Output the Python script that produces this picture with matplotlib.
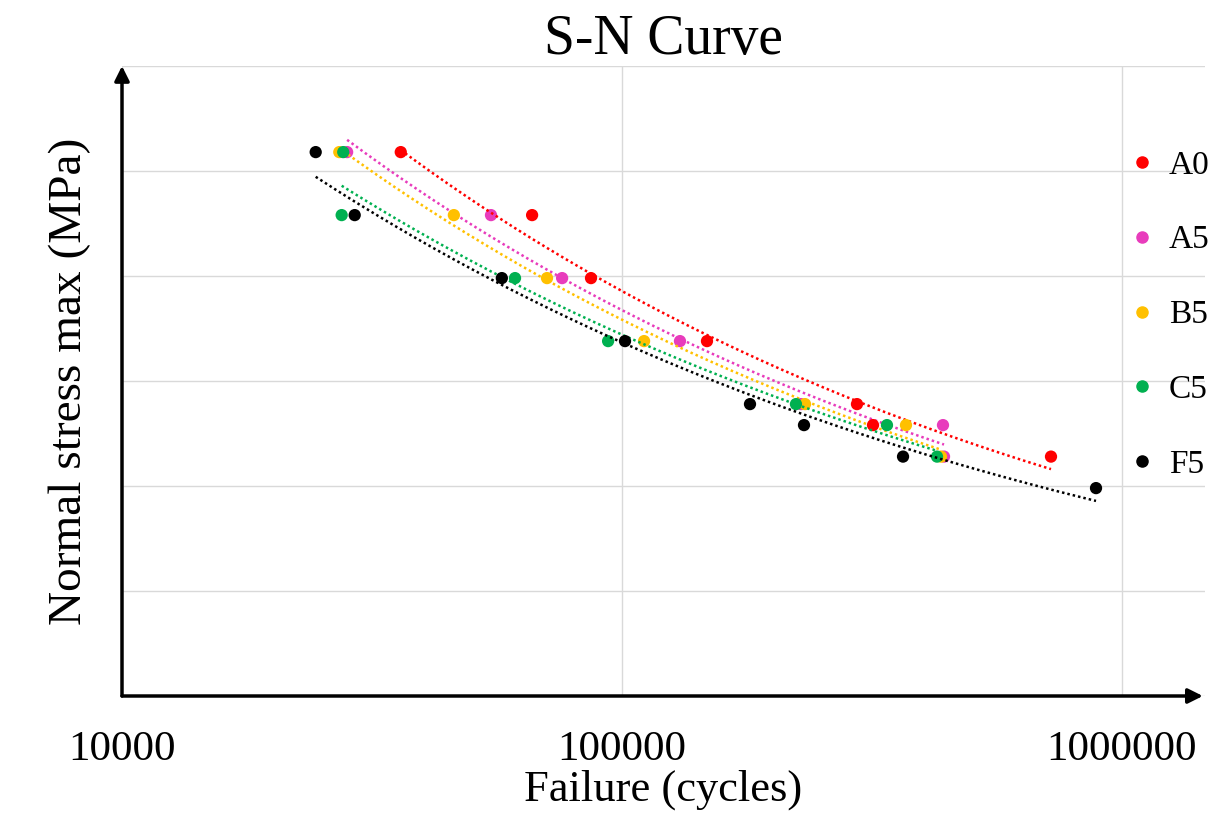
import numpy as np
import matplotlib
matplotlib.use("Agg")
import matplotlib.pyplot as plt
from matplotlib.lines import Line2D

plt.rcParams['font.family'] = ['Liberation Serif', 'DejaVu Serif']

# cycles to failure and max normal stress per series
a0_n = [36100, 66100, 86700, 147900, 295100, 317700, 721100]
a0_s = [259, 229, 199, 169, 139, 129, 114]
a5_n = [28200, 54700, 75900, 130600, 228000, 438500, 440600]
a5_s = [259, 229, 199, 169, 139, 129, 114]
b5_n = [27200, 46100, 70800, 110700, 232300, 369800, 434500]
b5_s = [259, 229, 199, 169, 139, 129, 114]
c5_n = [27700, 27500, 61100, 93800, 222800, 338800, 426600]
c5_s = [259, 229, 199, 169, 139, 129, 114]
f5_n = [24400, 29200, 57500, 101400, 180300, 231200, 364800, 887200]
f5_s = [259, 229, 199, 169, 139, 129, 114, 99]

names = ["A0", "A5", "B5", "C5", "F5"]
colors = ["#ff0000", "#e83cbc", "#ffc000", "#00b050", "#000000"]
series = [(a0_n, a0_s), (a5_n, a5_s), (b5_n, b5_s), (c5_n, c5_s), (f5_n, f5_s)]
zorders = [4, 3, 4, 5, 6]

fig = plt.figure(figsize=(12.18, 8.18), dpi=100)
ax = fig.add_axes([122/1218, 1-696/818, (1205-122)/1218, (696-66)/818])

for name, col, (n, s), z in zip(names, colors, series, zorders):
    n = np.array(n, float)
    s = np.array(s, float)
    # power-law trendline, as in a spreadsheet
    b, a = np.polyfit(np.log(n), np.log(s), 1)
    xx = np.geomspace(n.min(), n.max(), 200)
    ax.plot(xx, np.exp(a) * xx**b, linestyle=(0, (1, 1.2)), color=col, lw=1.8, zorder=z)
    ax.scatter(n, s, s=78, color=col, edgecolors='none', zorder=z + 0.5)

ax.set_xscale('log')
ax.set_xlim(1e4, 10**(4 + 1083/500))
ax.set_ylim(0, 300)
ax.set_xticks([1e4, 1e5, 1e6])
ax.set_xticklabels(["10000", "100000", "1000000"])
ax.set_yticks(np.arange(0, 301, 50))
ax.set_yticklabels([])
ax.tick_params(axis='x', length=0, labelsize=31, pad=25)
ax.tick_params(axis='y', length=0, pad=0)
ax.minorticks_off()
ax.grid(True, color='#d9d9d9', lw=1)
ax.set_axisbelow(True)
for sp in ax.spines.values():
    sp.set_visible(False)

arrow = dict(arrowstyle='-|>', color='black', lw=2.5, mutation_scale=22,
             shrinkA=0, shrinkB=0)
ax.annotate('', xy=(0.998, 0), xytext=(0, 0), xycoords='axes fraction', arrowprops=arrow)
ax.annotate('', xy=(0, 1.0), xytext=(0, 0), xycoords='axes fraction', arrowprops=arrow)

ax.set_title("S-N Curve", fontsize=40, pad=4)
ax.set_xlabel("Failure (cycles)", fontsize=32, labelpad=0)
ax.set_ylabel("Normal stress max (MPa)", fontsize=34, labelpad=22)

handles = [Line2D([], [], marker='o', linestyle='none', color=c, markersize=8) for c in colors]
fig.legend(handles, names, loc='upper left', bbox_to_anchor=(1122/1218, 1-150/818),
           frameon=False, fontsize=24, labelspacing=1.33, handletextpad=0.2,
           handlelength=1.2, borderpad=0, borderaxespad=0)

fig.savefig("out.png", dpi=100)
